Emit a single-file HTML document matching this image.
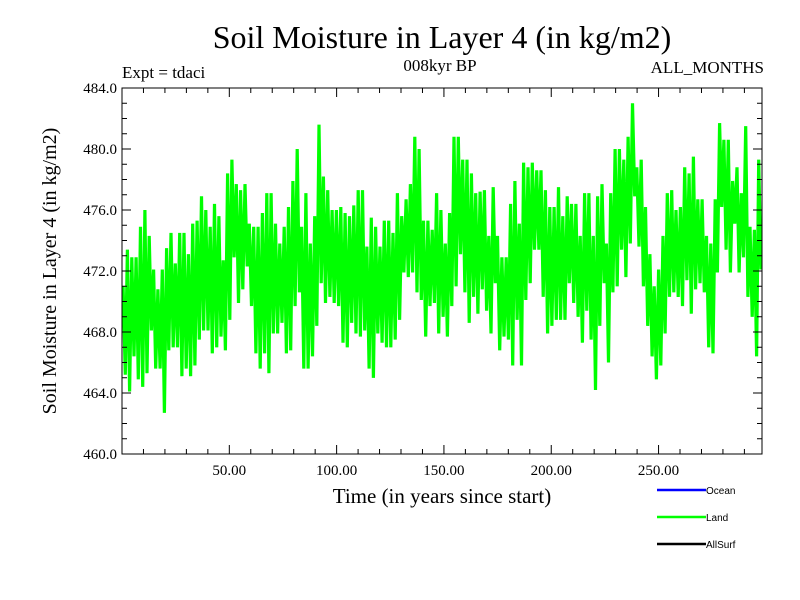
<!DOCTYPE html>
<html><head><meta charset="utf-8"><style>
body{margin:0;background:#fff;}
svg{display:block;font-family:"Liberation Serif",serif;}
</style></head><body>
<svg id="chart" width="800" height="600">
<text x="442" y="48" font-size="32" text-anchor="middle">Soil Moisture in Layer 4 (in kg/m2)</text>
<text x="122" y="78" font-size="17">Expt = tdaci</text>
<text x="440" y="71" font-size="17" text-anchor="middle">008kyr BP</text>
<text x="764" y="73" font-size="17" text-anchor="end">ALL_MONTHS</text>
<text transform="translate(56,271) rotate(-90)" font-size="20" text-anchor="middle">Soil Moisture in Layer 4 (in kg/m2)</text>
<text x="442" y="503" font-size="21" text-anchor="middle">Time (in years since start)</text>
<g id="plot"></g>
<g id="axes"></g>
<g font-family="Liberation Sans,sans-serif" font-size="10">
<line x1="657" y1="490" x2="706" y2="490" stroke="#0000ff" stroke-width="2.5"/>
<text x="706" y="494">Ocean</text>
<line x1="657" y1="517" x2="706" y2="517" stroke="#00ff00" stroke-width="2.5"/>
<text x="706" y="521">Land</text>
<line x1="657" y1="544" x2="706" y2="544" stroke="#000" stroke-width="2.5"/>
<text x="706" y="548">AllSurf</text>
</g>
</svg>
<script>
const hiVals=[471.0,473.4,472.9,472.9,474.9,476.0,474.3,472.1,470.8,472.1,473.5,474.5,472.5,474.5,474.5,473.1,475.1,475.3,476.9,476.0,474.9,476.4,475.6,472.7,478.4,479.3,477.7,477.3,477.7,475.1,474.9,474.9,475.8,477.1,477.1,475.1,473.8,474.9,476.2,477.9,480.0,474.9,477.1,473.8,475.6,481.6,478.2,477.3,476.0,476.0,
476.2,475.8,475.6,476.3,477.3,477.3,473.6,475.5,474.9,473.6,475.3,475.3,474.5,477.1,475.6,476.7,477.7,480.8,480.0,475.3,475.3,474.7,477.1,476.0,473.8,475.8,480.8,480.8,479.3,479.3,478.4,477.1,477.2,477.3,474.3,477.5,474.3,472.9,472.9,476.4,477.9,475.1,479.1,478.8,479.1,478.6,478.6,477.3,476.2,
476.2,477.5,475.6,476.9,476.4,476.4,474.3,477.1,477.1,474.3,476.9,477.7,473.8,477.1,480.0,480.0,479.3,480.8,483.0,478.8,479.3,476.2,473.1,471.0,472.1,474.3,477.1,477.3,476.0,476.2,478.8,478.4,479.5,476.7,476.7,474.3,473.8,476.7,481.7,480.6,480.6,477.9,478.8,477.1,481.5,474.9,474.7,479.3];
const loVals=[465.2,464.1,466.4,464.9,464.4,465.3,468.1,465.6,465.6,462.7,466.8,467.0,467.0,465.1,465.6,465.1,465.8,467.5,468.1,468.1,466.6,467.0,467.7,466.8,468.8,472.9,469.9,470.8,472.3,469.7,466.6,465.6,466.6,465.3,467.9,467.9,468.6,466.6,466.8,469.7,470.6,465.6,465.6,466.4,468.4,471.2,469.9,470.3,469.9,469.7,
467.3,467.0,468.6,467.9,467.7,468.1,465.6,465.0,467.9,467.3,467.0,467.0,467.5,468.8,471.9,471.6,471.9,470.6,470.1,467.7,469.7,469.9,467.9,469.0,467.7,469.7,471.0,473.1,470.6,468.6,470.3,469.2,470.8,469.4,467.9,471.2,466.8,467.7,467.5,465.8,468.8,465.8,470.1,471.2,473.4,473.4,470.3,467.9,468.4,
468.8,468.8,468.8,471.2,469.9,469.0,467.3,469.4,467.5,464.2,468.4,471.2,466.0,470.6,471.0,473.4,471.6,473.8,476.9,473.6,471.0,468.4,466.4,464.9,465.8,467.9,470.3,470.6,470.3,469.7,471.4,469.2,470.8,471.2,470.6,467.0,466.6,471.9,476.2,473.4,471.9,475.1,471.9,472.9,470.3,469.0,466.4,472.1];
const yTickLabels=["460.0","464.0","468.0","472.0","476.0","480.0","484.0"];
const yTickValues=[460,464,468,472,476,480,484];
const xTickLabels=["50.00","100.00","150.00","200.00","250.00"];
const xTickValues=[50,100,150,200,250];
const X0=122,X1=762,Y0=454,Y1=88,XMIN=0,XMAX=298.2,YMIN=460,YMAX=484;
function xs(v){return X0+(v-XMIN)/(XMAX-XMIN)*(X1-X0);}
function ys(v){return Y0-(v-YMIN)/(YMAX-YMIN)*(Y0-Y1);}
const NS="http://www.w3.org/2000/svg";
const plot=document.getElementById('plot');
const n=hiVals.length, step=XMAX/n;
let d="";
for(let i=0;i<n;i++){
  const t1=i*step+step*0.25, t2=i*step+step*0.75;
  d+=(i?"L":"M")+xs(t1).toFixed(1)+","+ys(hiVals[i]).toFixed(1)+"L"+xs(t2).toFixed(1)+","+ys(loVals[i]).toFixed(1);
}
const p=document.createElementNS(NS,'path');
p.setAttribute('d',d);p.setAttribute('fill','none');p.setAttribute('stroke','#00ff00');p.setAttribute('stroke-width','3.2');p.setAttribute('stroke-linejoin','bevel');


plot.appendChild(p);
const axes=document.getElementById('axes');
function ln(x1,y1,x2,y2,w){const l=document.createElementNS(NS,'line');l.setAttribute('x1',x1);l.setAttribute('y1',y1);l.setAttribute('x2',x2);l.setAttribute('y2',y2);l.setAttribute('stroke','#000');l.setAttribute('stroke-width',w||1);axes.appendChild(l);return l;}
const frame=document.createElementNS(NS,'rect');
frame.setAttribute('x',X0);frame.setAttribute('y',Y1);frame.setAttribute('width',X1-X0);frame.setAttribute('height',Y0-Y1);
frame.setAttribute('fill','none');frame.setAttribute('stroke','#000');


axes.appendChild(frame);
for(let v=YMIN;v<=YMAX;v++){
  const y=ys(v), L=(v%4===0)?9:5;
  ln(X0,y,X0+L,y);ln(X1-L,y,X1,y);
}
for(let v=10;v<XMAX;v+=10){
  const x=xs(v), L=(v%50===0)?9:5;
  ln(x,Y0,x,Y0-L);ln(x,Y1,x,Y1+L);
}
yTickValues.forEach((v,i)=>{
  const t=document.createElementNS(NS,'text');
  t.setAttribute('x',X0-5);t.setAttribute('y',ys(v)+5);t.setAttribute('text-anchor','end');t.setAttribute('font-size','15');
  t.textContent=yTickLabels[i];
  
  
  axes.appendChild(t);
});
xTickValues.forEach((v,i)=>{
  const t=document.createElementNS(NS,'text');
  t.setAttribute('x',xs(v));t.setAttribute('y',Y0+21);t.setAttribute('text-anchor','middle');t.setAttribute('font-size','15');
  t.textContent=xTickLabels[i];
  
  
  axes.appendChild(t);
});
</script>
</body></html>
